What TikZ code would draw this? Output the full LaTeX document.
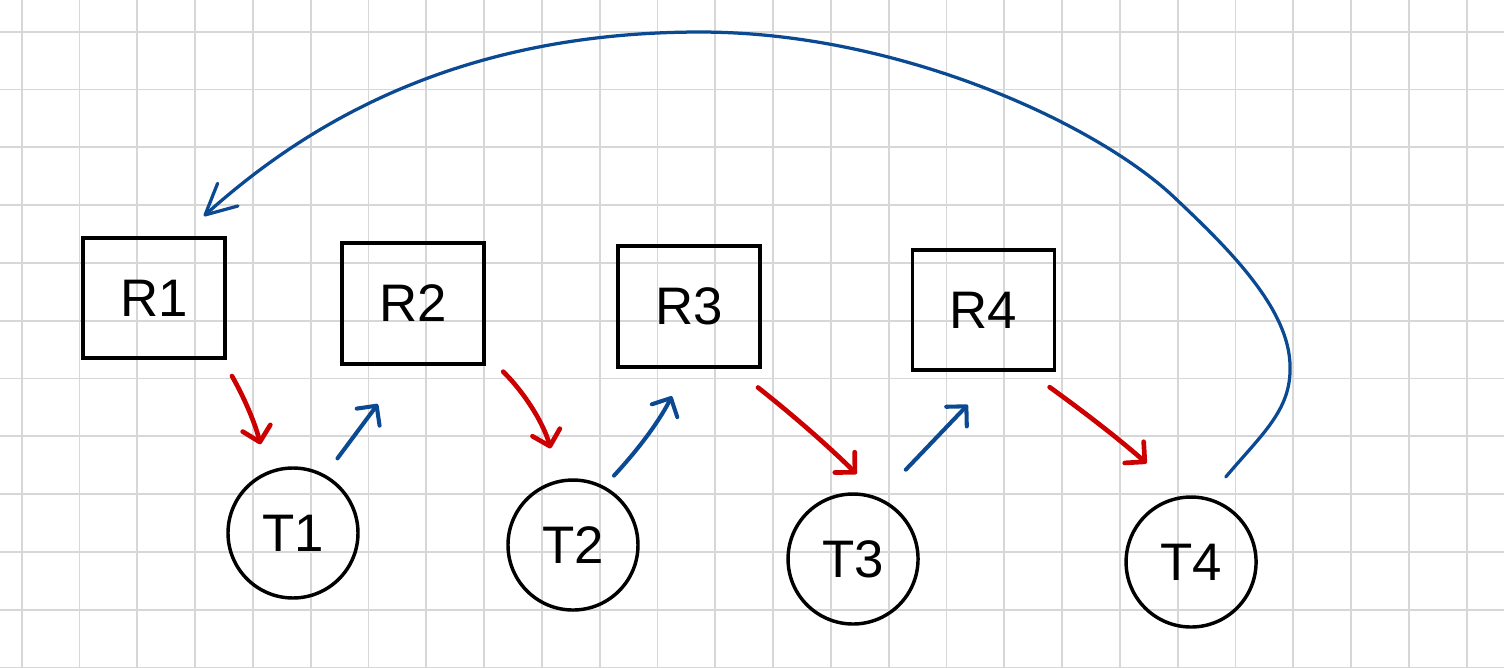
\documentclass[tikz,border=0pt]{standalone}
\usepackage{fontspec}
\setmainfont{Liberation Sans}
\usepackage{tikz}
\usetikzlibrary{arrows.meta, positioning, calc}
\definecolor{inkred}{RGB}{204,0,0}
\definecolor{inkblue}{RGB}{11,74,147}
\definecolor{gridgray}{RGB}{215,215,215}

\begin{document}
\begin{tikzpicture}[
    font=\fontsize{26}{30}\selectfont,
    rbox/.style={rectangle, draw=black, line width=1.8pt, minimum width=2.457cm,
                 minimum height=2.085cm, inner sep=0pt},
    tnode/.style={circle, draw=black, line width=1.7pt, minimum size=2.249cm, inner sep=0pt},
    gridline/.style={draw=gridgray, line width=0.9pt},
    redarr/.style={-{Straight Barb[round, length=7pt, width=14pt]}, line width=2.3pt,
                   draw=inkred, line cap=round},
    bluearr/.style={-{Straight Barb[round, length=7pt, width=14pt]}, line width=2pt,
                    draw=inkblue, line cap=round},
    backarr/.style={-{Straight Barb[round, length=15pt, width=15pt]}, line width=1.6pt,
                    draw=inkblue, line cap=round},
]
% --- paper: squared background ---
\fill[white] (0,-11.54) rectangle (26.02,0);
\useasboundingbox (0,-11.54) rectangle (26.02,0);
\begin{scope}
  \clip (0,-11.54) rectangle (26.02,0);
  \draw[gridline, shift={(0.375,-0.548)}] (-1,-12) grid (26,1);
\end{scope}

% --- ROW 1: resources ---
\node[rbox] (r1) at ( 2.664, -5.156) {R1};
\node[rbox] (r2) at ( 7.145, -5.251) {R2};
\node[rbox] (r3) at (11.920, -5.303) {R3};
\node[rbox] (r4) at (17.016, -5.363) {R4};

% --- ROW 2: threads ---
\node[tnode] (t1) at ( 5.069, -9.221) {T1};
\node[tnode] (t2) at ( 9.913, -9.429) {T2};
\node[tnode] (t3) at (14.758, -9.671) {T3};
\node[tnode] (t4) at (20.606, -9.723) {T4};

% --- held by (red) ---
\draw[redarr, shorten <=9pt,  shorten >=13.8pt] (r1.-42) to[bend left=8] (t1.113);
\draw[redarr, shorten <=12pt, shorten >=16pt]   (r2.-35) to[bend left=15] (t2.102);
\draw[redarr, shorten <=15pt, shorten >=17.7pt] (r3.-54) to[bend left=3]  (t3.64);
\draw[redarr, shorten <=12.7pt, shorten >=24pt] (r4.-54) to[bend left=3]  (t4.97);

% --- waits for (blue) ---
\draw[bluearr, shorten <=10pt, shorten >=23.6pt] (t1.61) -- (r2.-96);
\draw[bluearr, shorten <=7pt,  shorten >=15.2pt] (t2.62) to[bend right=8] (r3.-93);
\draw[bluearr, shorten <=19pt, shorten >=22.3pt] (t3.67) -- (r4.-76);

% --- T4 waits for R1: long loop over the top ---
\draw[backarr, shorten <=13.3pt, shorten >=14.7pt]
  (t4.75) .. controls (21.834,-7.509) and (22.336,-7.093) .. (22.318,-6.349)
          .. controls (22.318,-5.363) and (21.280,-4.325) .. (20.363,-3.460)
          .. controls (19.031,-2.163) and (15.571,-0.554) .. (12.111,-0.554)
          .. controls ( 7.785,-0.554) and ( 5.190,-2.249) .. (r1.66);
\end{tikzpicture}
\end{document}
